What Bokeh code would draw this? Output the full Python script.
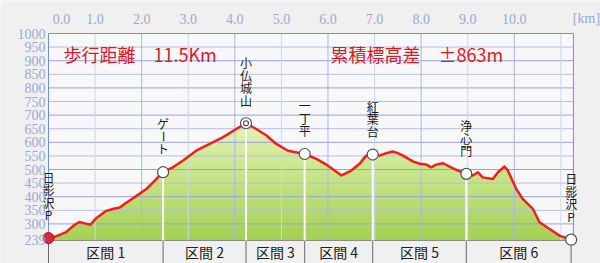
import numpy as np
from bokeh.plotting import figure
from bokeh.models import LabelSet, ColumnDataSource, Range1d
from bokeh.core.properties import value
from bokeh.embed import file_html
from bokeh.resources import INLINE

# ---------------- data ----------------
dist_km = [0.00, 0.13, 0.38, 0.55, 0.66, 0.78, 0.90, 1.03, 1.24, 1.38, 1.53, 1.67,
           1.89, 2.10, 2.24, 2.39, 2.46, 2.67, 2.89, 3.17, 3.46, 3.74, 4.03, 4.24,
           4.46, 4.68, 4.89, 5.14, 5.50, 5.75, 6.00, 6.29, 6.50, 6.68, 6.82, 6.96,
           7.11, 7.25, 7.39, 7.50, 7.61, 7.82, 7.97, 8.11, 8.22, 8.32, 8.47, 8.61,
           8.75, 8.97, 9.11, 9.22, 9.32, 9.54, 9.65, 9.79, 9.86, 10.04, 10.18, 10.40,
           10.54, 10.75, 10.97, 11.22]
elev_m = [248, 252, 270, 295, 307, 302, 297, 322, 348, 355, 360, 378,
          403, 428, 452, 478, 490, 508, 533, 569, 594, 618, 649, 670,
          649, 625, 594, 569, 557, 539, 514, 478, 496, 521, 551, 555,
          551, 560, 566, 560, 551, 530, 521, 518, 508, 518, 523, 511,
          499, 484, 478, 490, 471, 465, 490, 511, 496, 429, 392, 355,
          306, 282, 257, 242]

wp_names = ["日影沢P", "ゲート", "小仏城山", "一丁平", "紅葉台", "浄心門", "日影沢P"]
wp_km = [0.00, 2.46, 4.24, 5.50, 6.96, 8.97, 11.22]
wp_elev = [248, 490, 670, 557, 555, 484, 242]

section_names = ["区間 1", "区間 2", "区間 3", "区間 4", "区間 5", "区間 6"]

elev_ticks = [239, 300, 350, 400, 450, 500, 550, 600, 650, 700, 750, 800, 850, 900, 950, 1000]
elev_tick_labels = [str(t) for t in elev_ticks]
km_ticks = [0, 1, 2, 3, 4, 5, 6, 7, 8, 9, 10]
km_tick_labels = ["0.0", "1.0", "2.0", "3.0", "4.0", "5.0", "6.0", "7.0", "8.0", "9.0", "10.0"]
unit_label = "[km]"
title_distance = "歩行距離　11.5Km"
title_ascent = "累積標高差　±863m"

# ---------------- layout constants ----------------
BASE = 239          # bottom of the profile area
TOP = 1000          # top of the profile area
X_END = 11.27       # right edge of the profile area (km)
PX_KM = 46.58       # pixels per km
PX_M = 0.272        # pixels per metre
LEFT_PX, TOP_PX = 48, 33
W, H = 600, 263

x0 = -LEFT_PX / PX_KM
x1 = (W - LEFT_PX) / PX_KM
y1 = TOP + TOP_PX / PX_M
y0 = TOP - (H - TOP_PX) / PX_M

JP = value("Noto Sans CJK JP")
SERIF = value("Liberation Serif")
TICK_COLOR = "#98a8d8"

p = figure(width=W, height=H, output_backend="svg", toolbar_location=None,
           x_range=Range1d(x0, x1), y_range=Range1d(y0, y1),
           x_axis_location=None, y_axis_location=None,
           min_border=0, min_border_left=0, min_border_right=0,
           min_border_top=0, min_border_bottom=0)
p.background_fill_color = "#f0f0f0"
p.border_fill_color = "#f0f0f0"
p.outline_line_color = None
p.grid.visible = False

# plot interior
p.quad(left=0, right=X_END, bottom=BASE, top=TOP, fill_color="#f8f8fa", line_color=None)

# gradient fill under the profile (stacked elevation bands)
km = np.array(dist_km, dtype=float)
el = np.array(elev_m, dtype=float)
c_top = np.array([0xe4, 0xf3, 0xb2], dtype=float)
c_bot = np.array([0xa2, 0xd1, 0x50], dtype=float)
band_tops = np.arange(BASE + 8, el.max() + 10, 8)
for t in band_tops[::-1]:
    f = (t - BASE) / (el.max() - BASE)
    c = c_bot + (c_top - c_bot) * min(f, 1.0)
    col = "#%02x%02x%02x" % tuple(int(round(v)) for v in c)
    p.varea(x=km, y1=BASE, y2=np.minimum(el, t), fill_color=col)

# grid lines
h_vals = [t for t in elev_ticks if BASE < t < TOP]
h_cols = ["#8ea4e6" if t % 100 == 0 else "#b0bfee" for t in h_vals]
p.segment(x0=[0] * len(h_vals), x1=[X_END] * len(h_vals), y0=h_vals, y1=h_vals,
          line_color=h_cols, line_width=1)
v_vals = list(range(1, int(X_END) + 1))
v_cols = ["#a4b6ea" if v % 2 == 0 else "#ccd6f2" for v in v_vals]
p.segment(x0=v_vals, x1=v_vals, y0=[BASE] * len(v_vals), y1=[TOP] * len(v_vals),
          line_color=v_cols, line_width=1)

# frame borders
p.segment(x0=[0, 0, X_END], x1=[0, X_END, X_END], y0=[BASE, TOP, BASE], y1=[TOP, TOP, TOP],
          line_color="#6f8ee6", line_width=1)
p.segment(x0=[0], x1=[X_END], y0=[BASE], y1=[BASE], line_color="#8c8c8c", line_width=1)

# section bar separators and labels
p.segment(x0=wp_km, x1=wp_km, y0=[y0] * len(wp_km), y1=[BASE] * len(wp_km),
          line_color="#6a6a6a", line_width=1)
sec_x = [(a + b) / 2 for a, b in zip(wp_km[:-1], wp_km[1:])]
sec_src = ColumnDataSource(dict(x=sec_x, y=[(y0 + BASE) / 2] * len(sec_x), text=section_names))
p.add_layout(LabelSet(x="x", y="y", text="text", source=sec_src, text_font=JP,
                      text_font_size="14px", text_color="#202020", text_align="center",
                      text_baseline="middle"))

# white drop lines from intermediate waypoints
mid_km = wp_km[1:-1]
mid_el = wp_elev[1:-1]
p.segment(x0=mid_km, x1=mid_km, y0=[BASE] * len(mid_km), y1=mid_el,
          line_color="white", line_width=2)

# profile line
p.line(km, el, line_color="#ff1a1a", line_width=2.5, line_join="round")

# waypoint markers
p.scatter(wp_km[1:], wp_elev[1:], size=11, fill_color="white", line_color="#505050", line_width=1.2)
peak_i = int(np.argmax(wp_elev))
p.scatter([wp_km[peak_i]], [wp_elev[peak_i]], size=5, fill_color="white", line_color="#505050", line_width=1.2)
p.scatter([wp_km[0]], [wp_elev[0]], size=11, fill_color="#e02a3a", line_color="#a01828", line_width=1)

# vertical waypoint names (one character per row)
GAP = 17.0
PITCH = 12.5
cx, cy, ct, ca, co = [], [], [], [], []
for name, k, e in zip(wp_names, wp_km, wp_elev):
    n = len(name)
    for i, ch in enumerate(name):
        cx.append(k)
        cy.append(e)
        ct.append(ch)
        ca.append(np.pi / 2 if ch == "ー" else 0.0)
        co.append(GAP + (n - 1 - i) * PITCH + PITCH / 2)
ch_src = ColumnDataSource(dict(x=cx, y=cy, text=ct, angle=ca, yoff=co))
p.add_layout(LabelSet(x="x", y="y", text="text", angle="angle", y_offset="yoff", source=ch_src,
                      text_font=JP, text_font_size="12px", text_color="#1a1a1a",
                      text_align="center", text_baseline="middle"))

# elevation tick labels (left)
ytl_src = ColumnDataSource(dict(x=[0] * len(elev_ticks), y=elev_ticks, text=elev_tick_labels))
p.add_layout(LabelSet(x="x", y="y", text="text", source=ytl_src, x_offset=-3,
                      text_font=SERIF, text_font_size="14px", text_color=TICK_COLOR,
                      text_align="right", text_baseline="middle"))

# distance tick labels (top); the first one is nudged right as in the original
xoff = [13 if t == 0 else 0 for t in km_ticks]
xtl_src = ColumnDataSource(dict(x=km_ticks + [X_END], y=[TOP] * (len(km_ticks) + 1),
                                text=km_tick_labels + [unit_label], xoff=xoff + [13]))
p.add_layout(LabelSet(x="x", y="y", text="text", source=xtl_src, x_offset="xoff", y_offset=15,
                      text_font=SERIF, text_font_size="14px", text_color=TICK_COLOR,
                      text_align="center", text_baseline="middle"))

# titles
title_src = ColumnDataSource(dict(x=[(63 - LEFT_PX) / PX_KM, (330 - LEFT_PX) / PX_KM],
                                  y=[TOP - (53 - TOP_PX) / PX_M] * 2,
                                  text=[title_distance, title_ascent]))
p.add_layout(LabelSet(x="x", y="y", text="text", source=title_src, text_font=JP,
                      text_font_size="18px", text_color="#e8141c", text_align="left",
                      text_baseline="middle"))

open("out.html", "w").write(file_html(p, INLINE))
